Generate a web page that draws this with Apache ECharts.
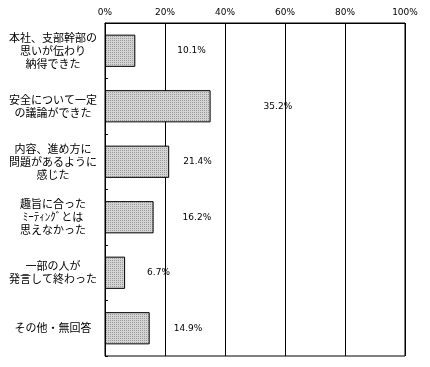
<!DOCTYPE html>
<html><head><meta charset="utf-8">
<script src="https://cdn.jsdelivr.net/npm/echarts@6/dist/echarts.min.js"></script>
<style>html,body{margin:0;padding:0;background:#fff}#c{width:430px;height:367px}</style>
</head><body><div id="c"></div>
<script>
const categories = [
  "本社、支部幹部の\n思いが伝わり\n納得できた",
  "安全について一定\nの議論ができた",
  "内容、進め方に\n問題があるように\n感じた",
  "趣旨に合った\nﾐｰﾃｨﾝｸﾞとは\n思えなかった",
  "一部の人が\n発言して終わった",
  "その他・無回答"
];
const values = [10.1, 35.2, 21.4, 16.2, 6.7, 14.9];
const xTicks = [0, 20, 40, 60, 80, 100];
// label offsets (px) beyond the bar end, as placed in the reference
const labelShift = [42, 53, 14, 29, 22, 24];

const pc = document.createElement('canvas');
pc.width = 2; pc.height = 2;
const g = pc.getContext('2d');
g.fillStyle = '#d4d4d4'; g.fillRect(0,0,2,2);
g.fillStyle = '#9a9a9a'; g.fillRect(0,0,1,1);

const chart = echarts.init(document.getElementById('c'), null, {renderer:'canvas'});
const font = '"Noto Sans CJK JP", sans-serif';
chart.setOption({
  animation:false,
  grid:{left:105, right:25, top:23, bottom:11, containLabel:false},
  xAxis:{type:'value', position:'top', min:xTicks[0], max:xTicks[xTicks.length-1], interval:xTicks[1]-xTicks[0],
    axisLine:{show:true, lineStyle:{color:'#000'}},
    axisTick:{show:false},
    splitLine:{show:true, lineStyle:{color:'#000', width:1}},
    axisLabel:{margin:6, color:'#000', fontSize:9, fontFamily:'"DejaVu Sans", sans-serif', formatter:v=>v+'%'}
  },
  yAxis:{type:'category', inverse:true, data:categories,
    axisLine:{show:true, lineStyle:{color:'#000'}},
    axisTick:{show:true, inside:true, length:3, lineStyle:{color:'#000'}},
    axisLabel:{align:'center', margin:52, color:'#000', fontSize:11, lineHeight:13, fontFamily:font}
  },
  series:[{
    type:'bar', data:values.map((v,i)=>({value:v, label:{offset:[labelShift[i],0]}})), barWidth:'58%',
    itemStyle:{color:{image:pc, repeat:'repeat'}, borderColor:'#000', borderWidth:1},
    label:{show:true, position:'right', distance:0, color:'#000', fontSize:9, fontFamily:'"DejaVu Sans", sans-serif',
      formatter:p=>p.value.toFixed(1)+'%'}
  }],
  graphic:[{type:'rect', shape:{x:105, y:23, width:300, height:333}, style:{fill:null, stroke:'#000', lineWidth:1}, silent:true, z:10}]
});
</script></body></html>
